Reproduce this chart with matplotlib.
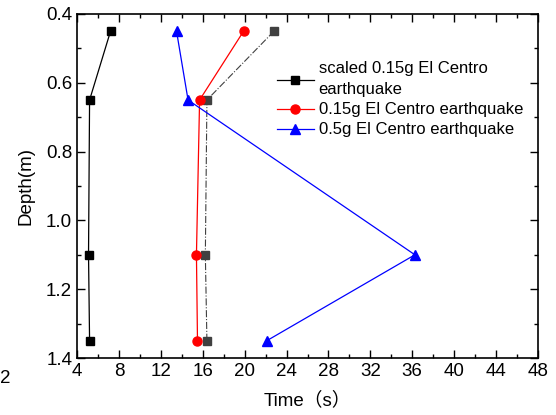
import matplotlib
matplotlib.use("Agg")
import matplotlib.pyplot as plt
from matplotlib.ticker import MultipleLocator

plt.rcParams['font.family'] = ['Liberation Sans', 'Noto Sans CJK SC', 'DejaVu Sans']

depth = [0.45, 0.65, 1.10, 1.35]
scaled_015 = [7.2, 5.2, 5.1, 5.2]
el_015 = [19.9, 15.7, 15.4, 15.5]
el_05 = [13.5, 14.6, 36.25, 22.1]
gray_series = [22.8, 16.4, 16.25, 16.4]

labels = ["scaled 0.15g El Centro\nearthquake", "0.15g El Centro earthquake", "0.5g El Centro earthquake"]

fig = plt.figure(figsize=(5.56, 4.15), dpi=100)
ax = fig.add_axes([77/556, 1-358/415, (538-77)/556, (358-14)/415])

ax.plot(gray_series, depth, color='#404040', lw=0.8, ls='-.', marker='s', ms=6)
ax.plot(scaled_015, depth, color='black', lw=0.9, marker='s', ms=6, label=labels[0])
ax.plot(el_015, depth, color='red', lw=0.9, marker='o', ms=6.5, label=labels[1])
ax.plot(el_05, depth, color='blue', lw=0.9, marker='^', ms=7, label=labels[2])

ax.set_xlim(4, 48)
ax.set_ylim(1.4, 0.4)
ax.xaxis.set_minor_locator(MultipleLocator(2))
ax.yaxis.set_minor_locator(MultipleLocator(0.1))
ax.tick_params(which='both', direction='in', top=True, right=True, labelsize=13.5, width=1)
ax.tick_params(which='major', length=6)
ax.tick_params(which='minor', length=3)
ax.set_xticks([4, 8, 12, 16, 20, 24, 28, 32, 36, 40, 44, 48])
ax.set_xticklabels([str(v) for v in [4, 8, 12, 16, 20, 24, 28, 32, 36, 40, 44, 48]])
ax.set_yticks([0.4, 0.6, 0.8, 1.0, 1.2, 1.4])
ax.set_yticklabels(["0.4", "0.6", "0.8", "1.0", "1.2", "1.4"])
for s in ax.spines.values():
    s.set_linewidth(1.2)

ax.set_xlabel("Time（s）", fontsize=13.5, labelpad=8)
ax.set_ylabel("Depth(m)", fontsize=13.5, labelpad=8)

leg = ax.legend(loc='upper left', bbox_to_anchor=(0.434, 0.862), frameon=False, fontsize=12,
                handlelength=2.2, handletextpad=0.3, borderaxespad=0, borderpad=0,
                labelspacing=0.3)
leg.get_texts()[0].set_linespacing(1.5)

fig.text(0.0, 1-378/415, "2", fontsize=13.5, va='center', ha='left')

fig.savefig("out.png", dpi=100)
